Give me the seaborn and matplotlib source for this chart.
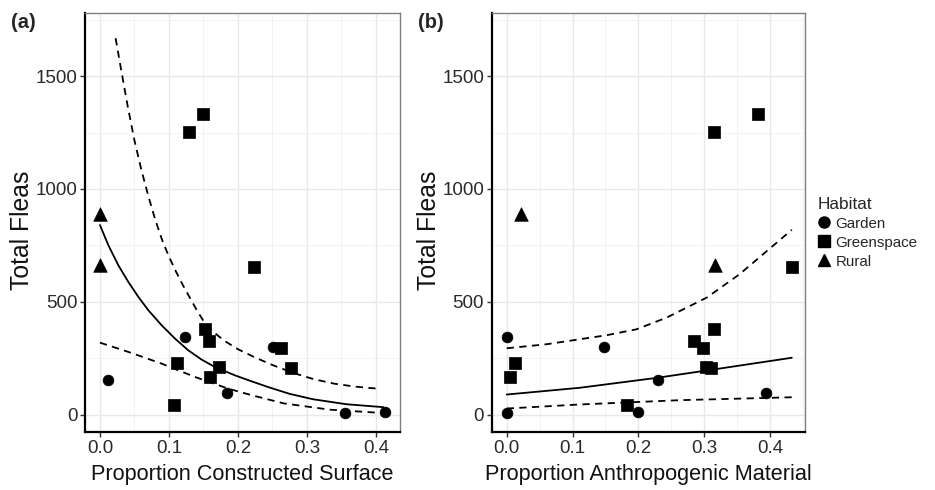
import numpy as np
import pandas as pd
import matplotlib
matplotlib.use("Agg")
import matplotlib.pyplot as plt
import seaborn as sns
from matplotlib.ticker import MultipleLocator
from matplotlib.lines import Line2D

# ---------------- data ----------------
habitat_order = ["Garden", "Greenspace", "Rural"]

garden_fleas = [152, 345, 98, 300, 7, 10]
garden_constructed = [0.011, 0.123, 0.184, 0.251, 0.355, 0.413]
garden_anthro = [0.230, 0.0, 0.394, 0.148, 0.0, 0.200]

green_fleas = [1254, 1331, 652, 380, 328, 229, 212, 167, 42, 296, 207]
green_constructed = [0.129, 0.149, 0.223, 0.153, 0.158, 0.112, 0.172, 0.160, 0.107, 0.263, 0.277]
green_anthro = [0.315, 0.381, 0.433, 0.315, 0.285, 0.013, 0.303, 0.005, 0.182, 0.298, 0.310]

rural_fleas = [890, 662]
rural_constructed = [0.0, 0.0]
rural_anthro = [0.022, 0.317]

# fitted curves, panel (a)
a_fit_x = [0.0, 0.0121, 0.0266, 0.0411, 0.0556, 0.070, 0.0894, 0.1087, 0.128, 0.1473,
           0.1667, 0.1957, 0.2222, 0.246, 0.275, 0.309, 0.3575, 0.411]
a_fit_y = [840, 751, 662, 588, 522, 463, 396, 337, 285, 244, 211, 174, 145, 120, 92, 68, 46, 33]
a_up_x = [0.0227, 0.030, 0.040, 0.050, 0.060, 0.070, 0.080, 0.090, 0.100, 0.110, 0.120,
          0.130, 0.140, 0.150, 0.165, 0.180, 0.200, 0.225, 0.250, 0.280, 0.310, 0.340,
          0.370, 0.403]
a_up_y = [1668, 1540, 1370, 1215, 1085, 970, 865, 775, 700, 635, 575, 520, 465, 415, 365,
          328, 290, 253, 220, 185, 157, 137, 124, 115]
a_lo_x = [0.0, 0.041, 0.0894, 0.1377, 0.186, 0.220, 0.266, 0.333, 0.411]
a_lo_y = [319, 278, 226, 167, 115, 86, 50, 22, 7]

# fitted curves, panel (b)
b_fit_x = [0.0, 0.111, 0.228, 0.314, 0.433]
b_fit_y = [89, 119, 163, 200, 252]
b_up_x = [0.0, 0.061, 0.152, 0.197, 0.243, 0.304, 0.354, 0.433]
b_up_y = [294, 312, 352, 378, 430, 519, 623, 819]
b_lo_x = [0.0, 0.111, 0.263, 0.433]
b_lo_y = [27, 45, 64, 77]

x_ticks = [0.0, 0.1, 0.2, 0.3, 0.4]
y_ticks = [0, 500, 1000, 1500]

# ---------------- table ----------------
df = pd.DataFrame({
    "Habitat": ["Garden"] * len(garden_fleas) + ["Greenspace"] * len(green_fleas) + ["Rural"] * len(rural_fleas),
    "Fleas": garden_fleas + green_fleas + rural_fleas,
    "Constructed": garden_constructed + green_constructed + rural_constructed,
    "Anthro": garden_anthro + green_anthro + rural_anthro,
})

sns.set_theme(style="white")
plt.rcParams["font.family"] = ["Liberation Sans", "DejaVu Sans"]

fig = plt.figure(figsize=(9.35, 4.9), dpi=100)
ax_a = fig.add_axes([85 / 935, 58 / 490, 315 / 935, 419.3 / 490])
ax_b = fig.add_axes([491.7 / 935, 58 / 490, 313.3 / 935, 419.3 / 490])

markers = {"Garden": "o", "Greenspace": "s", "Rural": "^"}
sizes = {"Garden": 60, "Greenspace": 85, "Rural": 95}


def style_axes(ax, xlim, xlabel, axw):
    ax.set_xlim(*xlim)
    ax.set_ylim(-77, 1781)
    ax.set_xticks(x_ticks)
    ax.set_xticklabels([f"{t:.1f}" for t in x_ticks])
    ax.set_yticks(y_ticks)
    ax.set_yticklabels([str(t) for t in y_ticks])
    ax.xaxis.set_minor_locator(MultipleLocator(0.05))
    ax.yaxis.set_minor_locator(MultipleLocator(250))
    ax.grid(True, which="major", color="#e8e8e8", lw=1.0, zorder=0)
    ax.grid(True, which="minor", color="#f1f1f1", lw=0.6, zorder=0)
    ax.set_axisbelow(True)
    for s in ["top", "right"]:
        ax.spines[s].set_color("#7f7f7f")
        ax.spines[s].set_linewidth(1.0)
    for s in ["left", "bottom"]:
        ax.spines[s].set_color("black")
        ax.spines[s].set_linewidth(1.6)
    ax.tick_params(axis="both", which="major", direction="out", length=3.5, width=1,
                   color="#333333", labelsize=13.5, labelcolor="#2a2a2a", pad=2,
                   bottom=True, left=True)
    ax.tick_params(axis="both", which="minor", length=0)
    ax.set_xlabel(xlabel, fontsize=15.6, color="#111111", labelpad=5)
    ax.set_ylabel("Total Fleas", fontsize=17.8, color="#111111")
    ax.yaxis.set_label_coords(-51 / axw, 0.48)


for ax, xcol, fits, xlim, xlabel, axw in [
    (ax_a, "Constructed",
     [(a_fit_x, a_fit_y, "-"), (a_up_x, a_up_y, "--"), (a_lo_x, a_lo_y, "--")],
     (-0.0217, 0.435), "Proportion Constructed Surface", 315),
    (ax_b, "Anthro",
     [(b_fit_x, b_fit_y, "-"), (b_up_x, b_up_y, "--"), (b_lo_x, b_lo_y, "--")],
     (-0.0228, 0.453), "Proportion Anthropogenic Material", 313.3),
]:
    for fx, fy, ls in fits:
        sns.lineplot(x=fx, y=fy, ax=ax, color="black", lw=1.3, sort=False, zorder=3)
        l = ax.lines[-1]
        if ls == "--":
            l.set_dashes((4, 3))
    for hab in habitat_order:
        sub = df[df["Habitat"] == hab]
        sns.scatterplot(data=sub, x=xcol, y="Fleas", ax=ax, marker=markers[hab],
                        s=sizes[hab], color="black", edgecolor="black", linewidth=0.5,
                        zorder=4, legend=False)
    style_axes(ax, xlim, xlabel, axw)

fig.text(11 / 935, 1 - 23 / 490, "(a)", fontsize=14.5, fontweight="bold", va="center", ha="left")
fig.text(418 / 935, 1 - 23 / 490, "(b)", fontsize=14.5, fontweight="bold", va="center", ha="left")

# legend
handles = [Line2D([], [], marker=markers[h], color="black", ls="none",
                  markersize={"Garden": 8, "Greenspace": 8, "Rural": 9}[h]) for h in habitat_order]
leg = fig.legend(handles, habitat_order, title="Habitat", loc="upper left",
                 bbox_to_anchor=(815 / 935, 1 - 193.5 / 490), frameon=False,
                 fontsize=10.9, title_fontsize=12.4, handlelength=0.8, handletextpad=0.35,
                 labelspacing=0.33, borderpad=0.2, borderaxespad=0)
leg._legend_box.align = "left"

fig.savefig("out.png", dpi=100)
